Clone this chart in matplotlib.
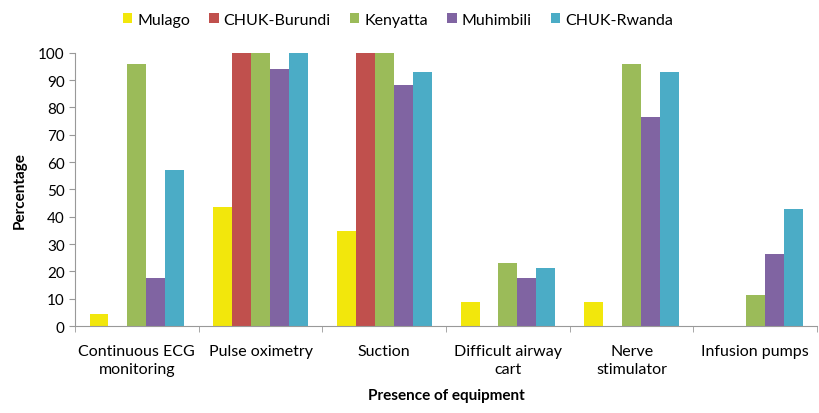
import numpy as np
import matplotlib
matplotlib.use('Agg')
import matplotlib.pyplot as plt

plt.rcParams['font.family'] = ['Lato', 'DejaVu Sans']

# equipment categories and availability (%) per hospital
categories = ['Continuous ECG\nmonitoring', 'Pulse oximetry', 'Suction',
              'Difficult airway\ncart', 'Nerve\nstimulator', 'Infusion pumps']
hospitals = ['Mulago', 'CHUK-Burundi', 'Kenyatta', 'Muhimbili', 'CHUK-Rwanda']
mulago = [4.3, 43.5, 34.8, 8.7, 8.7, 0]
chuk_burundi = [0, 100, 100, 0, 0, 0]
kenyatta = [96, 100, 100, 23, 96, 11.5]
muhimbili = [17.6, 94, 88.2, 17.6, 76.5, 26.5]
chuk_rwanda = [57.1, 100, 92.9, 21.4, 92.9, 42.9]
colors = ['#F2E70C', '#C0504D', '#9BBB59', '#8064A2', '#4BACC6']

series = [mulago, chuk_burundi, kenyatta, muhimbili, chuk_rwanda]

fig = plt.figure(figsize=(8.2, 4.14), dpi=100)
ax = fig.add_axes([0.0915, 0.21, 0.905, 0.66])

x = np.arange(len(categories))
w = 0.153
for i, (vals, name, c) in enumerate(zip(series, hospitals, colors)):
    ax.bar(x + (i - 2) * w, vals, width=w, color=c, label=name)

ax.set_xlim(-0.5, len(categories) - 0.5)
ax.set_ylim(0, 100)
ax.set_yticks(range(0, 101, 10))
ax.set_xticks(x)
ax.set_xticklabels(categories, fontsize=11.5, linespacing=1.35)
ax.set_xticks(np.arange(-0.5, len(categories), 1), minor=True)
ax.tick_params(axis='x', which='major', length=0, pad=13)
ax.tick_params(axis='x', which='minor', length=4, color='#999999')
ax.tick_params(axis='y', length=4, color='#999999', labelsize=11)

for s in ['top', 'right']:
    ax.spines[s].set_visible(False)
for s in ['left', 'bottom']:
    ax.spines[s].set_color('#999999')

ax.set_ylabel('Percentage', fontsize=11, fontweight='bold', labelpad=8)
ax.set_xlabel('Presence of equipment', fontsize=11, fontweight='bold', labelpad=9)

ax.legend(loc='upper center', bbox_to_anchor=(0.435, 1.2), ncol=5, frameon=False,
          fontsize=11.5, handlelength=0.6, handleheight=0.6, handletextpad=0.3,
          columnspacing=1.2)

fig.savefig('out.png', dpi=100)
